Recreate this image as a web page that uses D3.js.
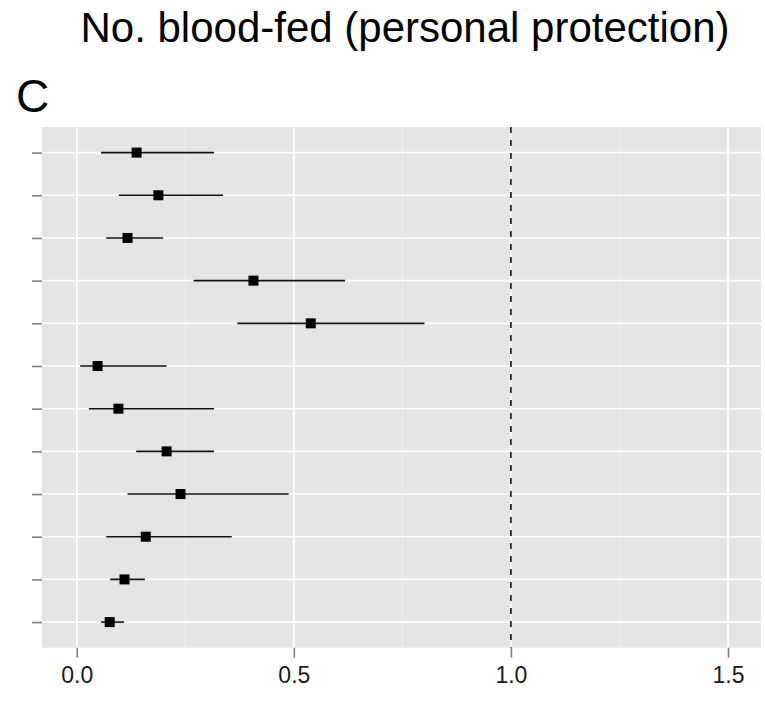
<!DOCTYPE html>
<html>
<head>
<meta charset="utf-8">
<script src="https://cdn.jsdelivr.net/npm/d3@7"></script>
<style>
  html, body { margin: 0; padding: 0; background: #ffffff; }
  svg { display: block; font-family: "Liberation Sans", Arial, Helvetica, sans-serif; }
</style>
</head>
<body>
<svg id="chart" width="765" height="708"></svg>
<script>
// ---- data (top row first) ----
const categories = ["r1","r2","r3","r4","r5","r6","r7","r8","r9","r10","r11","r12"];
const estimates  = [0.138, 0.188, 0.117, 0.407, 0.539, 0.048, 0.096, 0.207, 0.239, 0.159, 0.110, 0.076];
const lowerCI    = [0.056, 0.097, 0.068, 0.269, 0.370, 0.008, 0.028, 0.137, 0.117, 0.068, 0.077, 0.056];
const upperCI    = [0.316, 0.337, 0.199, 0.618, 0.801, 0.207, 0.316, 0.316, 0.488, 0.357, 0.157, 0.109];
const xTicks     = [0.0, 0.5, 1.0, 1.5];
const xMinorTicks = [0.25, 0.75, 1.25];
const refValue   = 1.0;
const titleText  = "No. blood-fed (personal protection)";
const panelTag   = "C";

const rows = categories.map((c, i) => ({ cat: c, est: estimates[i], lo: lowerCI[i], hi: upperCI[i] }));

const svg = d3.select("#chart");
const panel = { left: 42, top: 127, right: 761, bottom: 647.7 };

const x = d3.scaleLinear().domain([-0.08, 1.576]).range([panel.left, panel.right]);
const y = d3.scalePoint().domain(categories).range([panel.top, panel.bottom]).padding(0.6);

// title and tag
svg.append("text")
  .attr("x", 405).attr("y", 41.7)
  .attr("text-anchor", "middle")
  .attr("font-size", 42)
  .attr("fill", "#000")
  .text(titleText);

svg.append("text")
  .attr("x", 16).attr("y", 111.5)
  .attr("font-size", 46)
  .attr("fill", "#000")
  .text(panelTag);

// panel background
svg.append("rect")
  .attr("x", panel.left).attr("y", panel.top)
  .attr("width", panel.right - panel.left).attr("height", panel.bottom - panel.top)
  .attr("fill", "#e5e5e5");

const g = svg.append("g");

// minor vertical grid
g.selectAll("line.minor").data(xMinorTicks).enter().append("line")
  .attr("x1", d => x(d)).attr("x2", d => x(d))
  .attr("y1", panel.top).attr("y2", panel.bottom)
  .attr("stroke", "#f2f2f2").attr("stroke-width", 0.8);

// major vertical grid
g.selectAll("line.majorx").data(xTicks).enter().append("line")
  .attr("x1", d => x(d)).attr("x2", d => x(d))
  .attr("y1", panel.top).attr("y2", panel.bottom)
  .attr("stroke", "#ffffff").attr("stroke-width", 1.6);

// major horizontal grid
g.selectAll("line.majory").data(categories).enter().append("line")
  .attr("x1", panel.left).attr("x2", panel.right)
  .attr("y1", d => y(d)).attr("y2", d => y(d))
  .attr("stroke", "#ffffff").attr("stroke-width", 1.6);

// reference dashed line
g.append("line")
  .attr("x1", x(refValue)).attr("x2", x(refValue))
  .attr("y1", panel.top).attr("y2", panel.bottom)
  .attr("stroke", "#000").attr("stroke-width", 1.5)
  .attr("stroke-dasharray", "6,7");

// error bars
g.selectAll("line.ci").data(rows).enter().append("line")
  .attr("x1", d => x(d.lo)).attr("x2", d => x(d.hi))
  .attr("y1", d => y(d.cat)).attr("y2", d => y(d.cat))
  .attr("stroke", "#111").attr("stroke-width", 1.6);

// points
const sq = 10;
g.selectAll("rect.pt").data(rows).enter().append("rect")
  .attr("x", d => x(d.est) - sq / 2).attr("y", d => y(d.cat) - sq / 2)
  .attr("width", sq).attr("height", sq)
  .attr("fill", "#000");

// x axis
const xAxis = d3.axisBottom(x).tickValues(xTicks).tickFormat(d3.format(".1f")).tickSize(10).tickPadding(9);
const xa = svg.append("g").attr("transform", `translate(0,${panel.bottom})`).call(xAxis);
xa.select(".domain").remove();
xa.selectAll(".tick line").attr("stroke", "#7f7f7f").attr("stroke-width", 1.6);
xa.selectAll(".tick text").attr("font-size", 23).attr("fill", "#1a1a1a")
  .attr("font-family", "Liberation Sans, Arial, sans-serif");

// y axis (ticks only, no labels)
const yAxis = d3.axisLeft(y).tickFormat(() => "").tickSize(10);
const ya = svg.append("g").attr("transform", `translate(${panel.left},0)`).call(yAxis);
ya.select(".domain").remove();
ya.selectAll(".tick line").attr("stroke", "#7f7f7f").attr("stroke-width", 1.6);
</script>
</body>
</html>
